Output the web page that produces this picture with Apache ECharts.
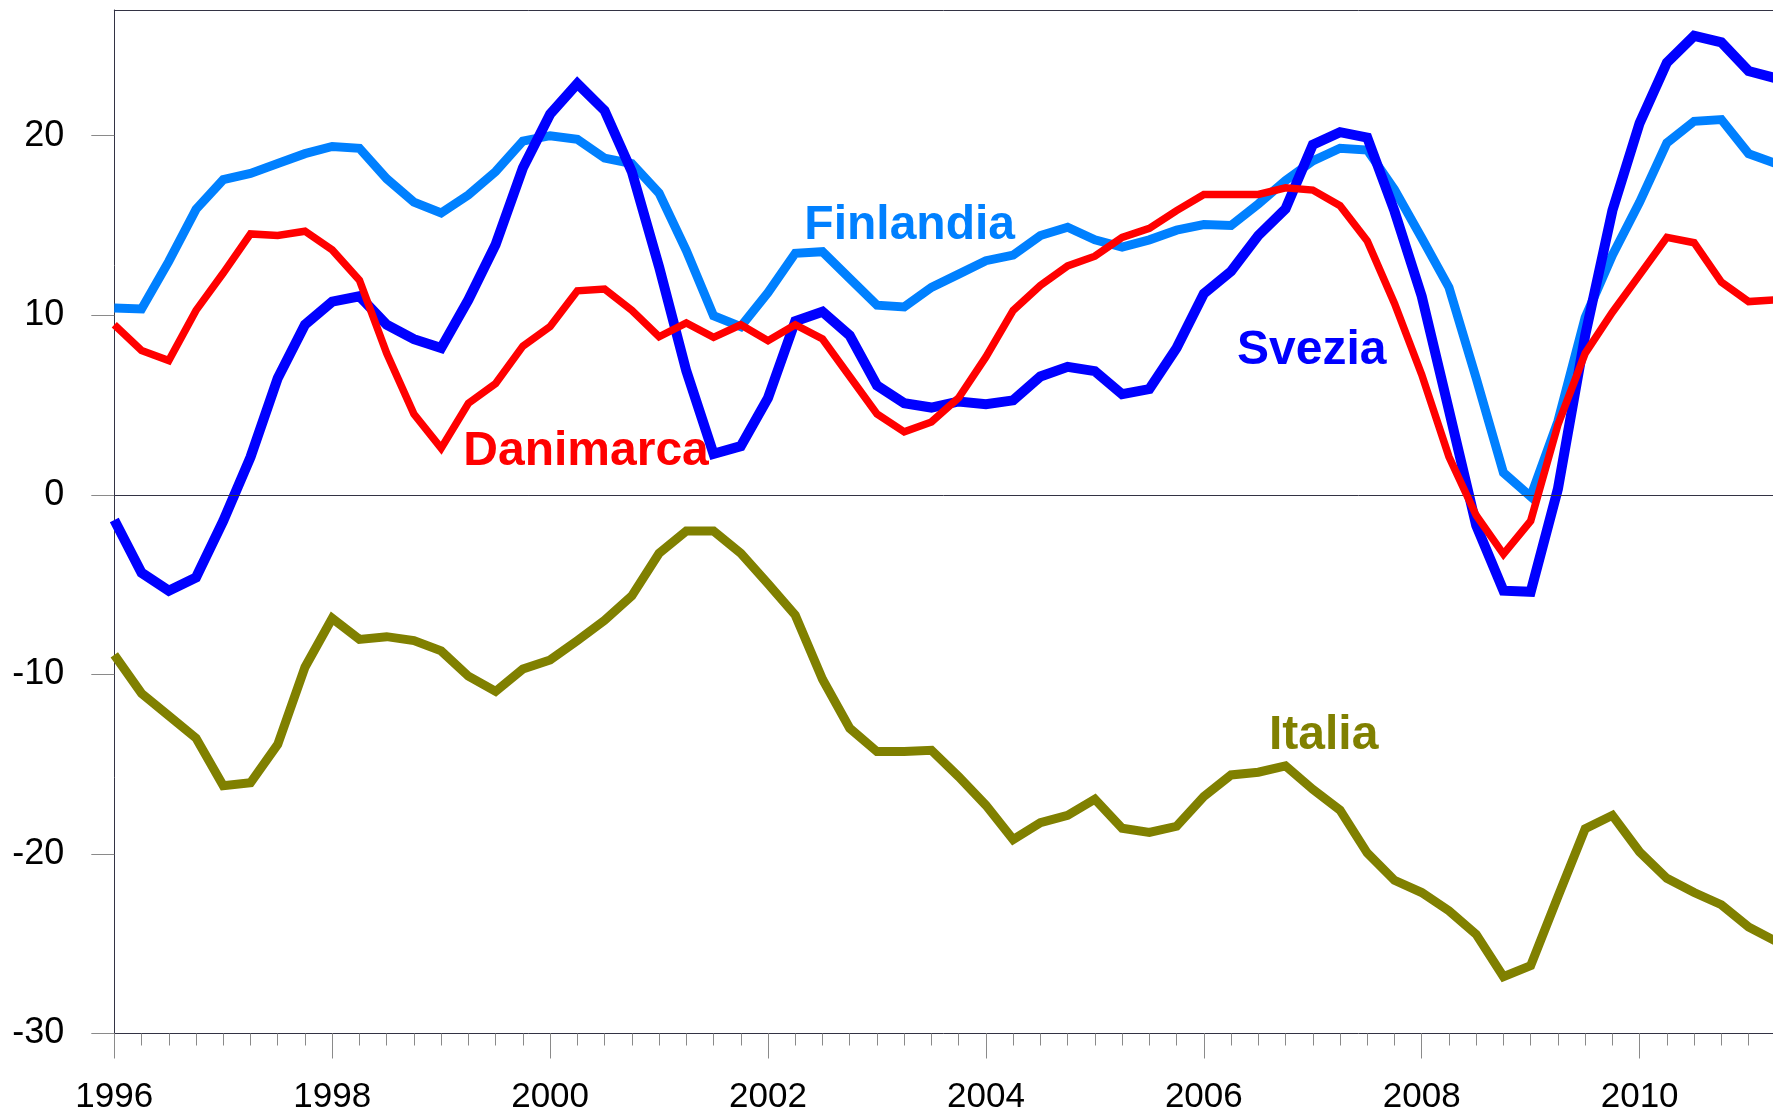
<!DOCTYPE html>
<html>
<head>
<meta charset="utf-8">
<title>Finlandia, Svezia, Danimarca, Italia</title>
<script src="https://cdn.jsdelivr.net/npm/echarts@6/dist/echarts.min.js"></script>
<style>
  html, body { margin: 0; padding: 0; background: #fff; }
  #chart { width: 1773px; height: 1116px; }
</style>
</head>
<body>
<div id="chart"></div>
<script>
// trimestri dal 1996 Q1
const startYear = 1996
const quarterStep = 0.25

const finlandia = [
  10.4, 10.35, 13.0, 15.9, 17.55, 17.9, 18.45, 19.0, 19.4, 19.3,
  17.6, 16.3, 15.7, 16.7, 18.0, 19.7, 20.0, 19.8, 18.75, 18.45,
  16.8, 13.6, 9.97, 9.37, 11.26, 13.45, 13.54, 12.05, 10.56, 10.46,
  11.55, 12.29, 13.04, 13.35, 14.44, 14.9, 14.2, 13.8, 14.2, 14.74,
  15.05, 15.0, 16.2, 17.5, 18.6, 19.3, 19.2, 17.0, 14.3, 11.55,
  6.49, 1.23, -0.1, 4.1, 9.87, 13.35, 16.3, 19.6, 20.8, 20.9,
  19.0, 18.45
]

const svezia = [
  -1.4, -4.34, -5.34, -4.6, -1.45, 2.1, 6.5, 9.47, 10.76, 11.06,
  9.47, 8.67, 8.18, 10.86, 13.94, 18.2, 21.2, 22.9, 21.4, 18.0,
  12.7, 6.9, 2.28, 2.71, 5.4, 9.67, 10.2, 8.87, 6.09, 5.1,
  4.86, 5.2, 5.04, 5.26, 6.59, 7.13, 6.89, 5.6, 5.89, 8.18,
  11.2, 12.45, 14.44, 15.93, 19.5, 20.2, 19.9, 15.8, 11.06, 4.7,
  -1.7, -5.34, -5.4, 0.33, 8.87, 15.83, 20.7, 24.07, 25.56, 25.2,
  23.6, 23.2
]

const danimarca = [
  9.47, 8.04, 7.48, 10.27, 12.35, 14.53, 14.44, 14.68, 13.64, 11.95,
  7.88, 4.5, 2.6, 5.1, 6.2, 8.28, 9.37, 11.36, 11.46, 10.27,
  8.8, 9.57, 8.77, 9.47, 8.58, 9.47, 8.68, 6.59, 4.5, 3.51,
  4.06, 5.4, 7.68, 10.27, 11.66, 12.75, 13.29, 14.34, 14.84, 15.83,
  16.73, 16.73, 16.73, 17.1, 16.97, 16.1, 14.14, 10.66, 6.69, 2.12,
  -1.15, -3.3, -1.45, 3.9, 7.88, 10.17, 12.25, 14.34, 14.04, 11.85,
  10.76, 10.86
]

const italia = [
  -8.91, -11.06, -12.3, -13.55, -16.2, -16.04, -13.9, -9.6, -6.88, -8.05,
  -7.9, -8.12, -8.69, -10.1, -10.95, -9.7, -9.2, -8.12, -6.99, -5.63,
  -3.26, -2.01, -2.01, -3.26, -4.95, -6.7, -10.27, -13.0, -14.3, -14.3,
  -14.23, -15.7, -17.29, -19.2, -18.26, -17.85, -16.95, -18.57, -18.8, -18.46,
  -16.8, -15.6, -15.45, -15.1, -16.4, -17.56, -19.95, -21.47, -22.15, -23.17,
  -24.48, -26.83, -26.22, -22.38, -18.6, -17.85, -19.89, -21.36, -22.15, -22.83,
  -24.07, -24.86
]

const yTicks = [-30, -20, -10, 0, 10, 20]
const yearTicks = [1996, 1998, 2000, 2002, 2004, 2006, 2008, 2010]
const quarterTicks = italia.map((_, i) => startYear + i * quarterStep)

// posizione delle etichette dei paesi (anno, valore)
const labelAt = {
  Finlandia: [2003.30, 15.0],
  Svezia: [2006.99, 8.05],
  Danimarca: [2000.33, 2.4],
  Italia: [2007.10, -13.4]
}

const xMin = 1996
const xMax = 2011.224
const font = "'Liberation Sans', Arial, sans-serif"
const axisColor = '#333344'
const tickColor = '#8a8a8a'

const toPairs = (values) => values.map((v, i) => [startYear + i * quarterStep, v])

const makeSeries = (name, values, color, width, z) => ({
  name,
  type: 'line',
  data: toPairs(values),
  symbol: 'none',
  z,
  clip: true,
  lineStyle: { color, width, join: 'miter', cap: 'butt' },
  markPoint: {
    symbol: 'circle',
    symbolSize: 0,
    silent: true,
    data: [{ coord: labelAt[name], value: name }],
    label: {
      show: true,
      position: 'inside',
      formatter: name,
      color,
      fontFamily: font,
      fontWeight: 'bold',
      fontSize: 48
    }
  }
})

const chart = echarts.init(document.getElementById('chart'), null, { renderer: 'canvas' })

const italiaSeries = makeSeries('Italia', italia, '#808000', 9, 2)
italiaSeries.markLine = {
  silent: true,
  symbol: ['none', 'none'],
  label: { show: false },
  lineStyle: { color: axisColor, width: 1, type: 'solid' },
  data: [{ yAxis: 0 }]
}

chart.setOption({
  animation: false,
  backgroundColor: '#ffffff',
  grid: {
    left: 114.3,
    top: 10,
    right: 0,
    bottom: 82.5,
    show: false
  },
  xAxis: [
    {
      type: 'value',
      min: xMin,
      max: xMax,
      position: 'bottom',
      axisLine: { show: true, onZero: false, lineStyle: { color: axisColor, width: 1 } },
      axisTick: { show: true, length: 25, customValues: yearTicks, lineStyle: { color: tickColor, width: 1 } },
      splitLine: { show: false },
      axisLabel: {
        margin: 46,
        color: '#000',
        fontFamily: font,
        fontSize: 35,
        customValues: yearTicks,
        formatter: (v) => String(v)
      }
    },
    {
      // tacche trimestrali
      type: 'value',
      min: xMin,
      max: xMax,
      position: 'bottom',
      axisLine: { show: false, onZero: false },
      axisTick: { show: true, length: 12, customValues: quarterTicks, lineStyle: { color: tickColor, width: 1 } },
      axisLabel: { show: false },
      splitLine: { show: false }
    },
    {
      // bordo superiore
      type: 'value',
      min: xMin,
      max: xMax,
      position: 'top',
      axisLine: { show: true, onZero: false, lineStyle: { color: axisColor, width: 1 } },
      axisTick: { show: false },
      axisLabel: { show: false },
      splitLine: { show: false }
    }
  ],
  yAxis: {
    type: 'value',
    min: -30,
    max: 27,
    interval: 10,
    axisLine: { show: true, onZero: false, lineStyle: { color: axisColor, width: 1 } },
    axisTick: { show: true, length: 23, customValues: yTicks, lineStyle: { color: tickColor, width: 1 } },
    splitLine: { show: false },
    axisLabel: {
      margin: 50,
      color: '#000',
      fontFamily: font,
      fontSize: 36,
      customValues: yTicks
    }
  },
  series: [
    italiaSeries,
    makeSeries('Finlandia', finlandia, '#0080ff', 9, 3),
    makeSeries('Svezia', svezia, '#0000ff', 10, 4),
    makeSeries('Danimarca', danimarca, '#ff0000', 7.5, 5)
  ]
})
</script>
</body>
</html>
